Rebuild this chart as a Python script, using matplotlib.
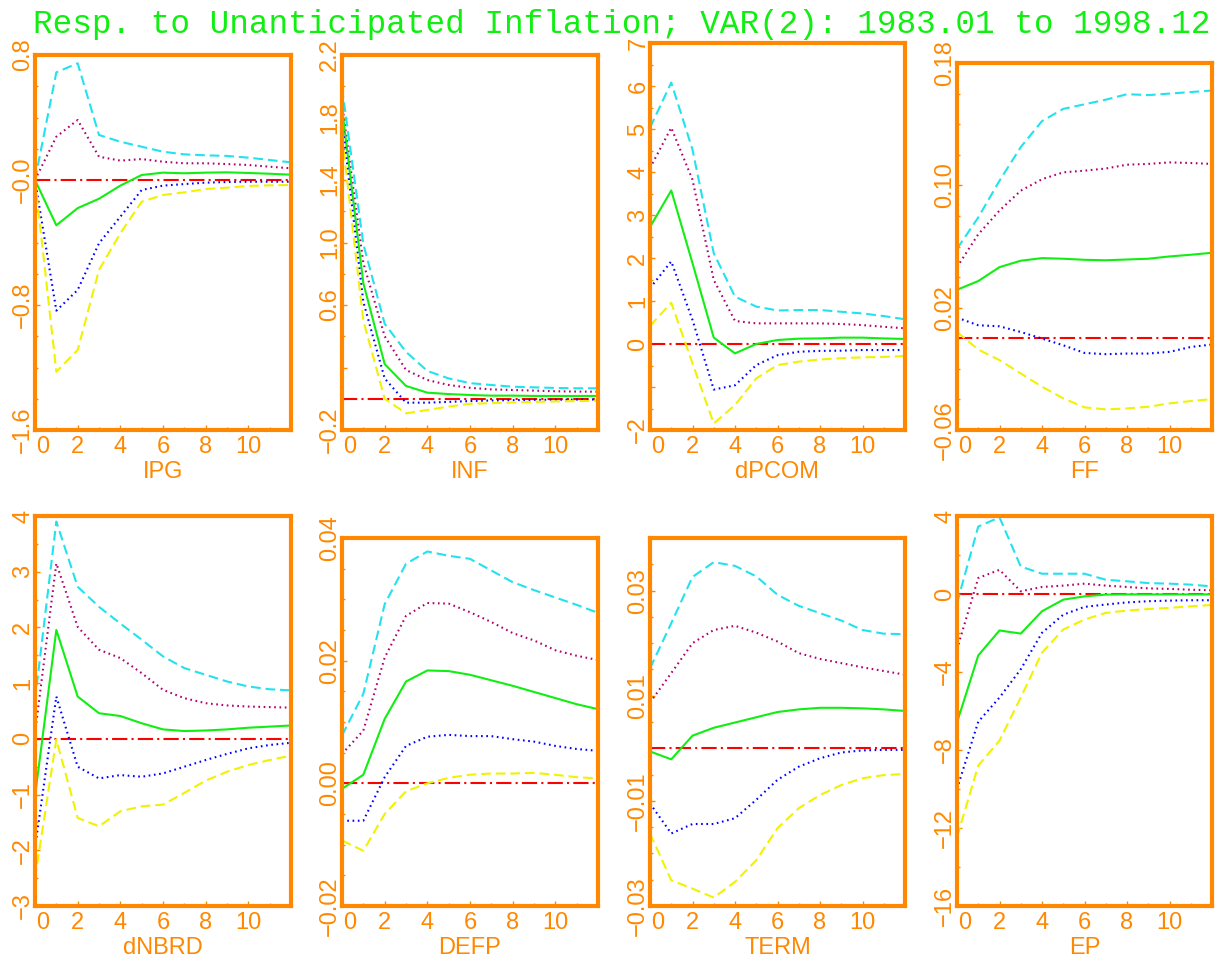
import matplotlib
matplotlib.use('Agg')
import matplotlib.pyplot as plt
import matplotlib.transforms as mtransforms
from matplotlib.ticker import MultipleLocator

plt.rcParams['font.family'] = ['Liberation Sans', 'DejaVu Sans']
plt.rcParams['lines.scale_dashes'] = False

title = 'Resp. to Unanticipated Inflation; VAR(2): 1983.01 to 1998.12'
steps = list(range(13))

# responses: u2 = upper dashed, u1 = upper dotted, m = point estimate,
# l1 = lower dotted, l2 = lower dashed
ipg_u2 = [0, 0.689, 0.747, 0.288, 0.245, 0.213, 0.181, 0.164, 0.158, 0.154, 0.143, 0.128, 0.113]
ipg_u1 = [0, 0.277, 0.384, 0.149, 0.124, 0.134, 0.117, 0.107, 0.107, 0.102, 0.096, 0.085, 0.075]
ipg_m = [0, -0.29, -0.18, -0.12, -0.036, 0.032, 0.047, 0.043, 0.047, 0.049, 0.045, 0.04, 0.034]
ipg_l1 = [0, -0.836, -0.704, -0.405, -0.235, -0.064, -0.036, -0.026, -0.017, -0.013, -0.011, -0.011, -0.011]
ipg_l2 = [0, -1.227, -1.088, -0.576, -0.341, -0.139, -0.096, -0.079, -0.058, -0.049, -0.038, -0.034, -0.032]

inf_u2 = [1.99, 0.99, 0.48, 0.30, 0.178, 0.13, 0.10, 0.088, 0.077, 0.073, 0.069, 0.067, 0.067]
inf_u1 = [1.89, 0.87, 0.40, 0.184, 0.12, 0.088, 0.07, 0.06, 0.056, 0.052, 0.048, 0.046, 0.045]
inf_m = [1.86, 0.74, 0.222, 0.082, 0.039, 0.030, 0.024, 0.020, 0.020, 0.018, 0.018, 0.018, 0.018]
inf_l1 = [1.78, 0.62, 0.13, -0.025, -0.025, -0.02, -0.015, -0.011, -0.009, -0.007, -0.006, -0.005, -0.005]
inf_l2 = [1.68, 0.50, 0.0, -0.093, -0.072, -0.05, -0.032, -0.028, -0.024, -0.02, -0.017, -0.015, -0.013]

dpcom_u2 = [5.03, 6.08, 4.52, 2.11, 1.10, 0.87, 0.78, 0.79, 0.79, 0.75, 0.71, 0.65, 0.575]
dpcom_u1 = [4.09, 5.03, 3.82, 1.49, 0.536, 0.48, 0.48, 0.48, 0.48, 0.465, 0.44, 0.40, 0.365]
dpcom_m = [2.72, 3.57, 1.88, 0.148, -0.218, 0.0, 0.093, 0.124, 0.13, 0.148, 0.148, 0.13, 0.117]
dpcom_l1 = [1.30, 1.92, 0.56, -1.06, -0.96, -0.49, -0.26, -0.18, -0.16, -0.155, -0.14, -0.14, -0.14]
dpcom_l2 = [0.42, 0.96, -0.45, -1.85, -1.42, -0.80, -0.49, -0.41, -0.36, -0.33, -0.31, -0.30, -0.28]

ff_u2 = [0.0585, 0.079, 0.103, 0.125, 0.142, 0.150, 0.153, 0.156, 0.1596, 0.159, 0.160, 0.161, 0.162]
ff_u1 = [0.0465, 0.068, 0.0835, 0.0965, 0.104, 0.1085, 0.1096, 0.111, 0.1135, 0.114, 0.115, 0.1146, 0.114]
ff_m = [0.0317, 0.0374, 0.0465, 0.0507, 0.0524, 0.052, 0.0513, 0.051, 0.0515, 0.052, 0.0535, 0.0546, 0.0559]
ff_l1 = [0.0135, 0.0085, 0.0078, 0.0041, -0.0002, -0.0046, -0.0096, -0.0104, -0.010, -0.010, -0.0089, -0.0057, -0.0041]
ff_l2 = [0.0041, -0.0074, -0.0143, -0.023, -0.0317, -0.0393, -0.0452, -0.0465, -0.0459, -0.0448, -0.0426, -0.0411, -0.0398]

dnbrd_u2 = [0.70, 3.90, 2.73, 2.37, 2.07, 1.78, 1.48, 1.27, 1.15, 1.03, 0.94, 0.89, 0.87]
dnbrd_u1 = [0.10, 3.15, 2.01, 1.60, 1.45, 1.18, 0.88, 0.73, 0.64, 0.60, 0.58, 0.57, 0.56]
dnbrd_m = [-1.03, 1.955, 0.76, 0.46, 0.41, 0.28, 0.17, 0.14, 0.15, 0.17, 0.20, 0.22, 0.24]
dnbrd_l1 = [-1.96, 0.76, -0.50, -0.71, -0.65, -0.68, -0.62, -0.50, -0.38, -0.27, -0.17, -0.11, -0.07]
dnbrd_l2 = [-2.50, -0.01, -1.42, -1.57, -1.30, -1.21, -1.18, -0.97, -0.75, -0.59, -0.47, -0.38, -0.30]

defp_u2 = [0.0078, 0.0146, 0.0292, 0.0358, 0.0378, 0.0371, 0.0366, 0.0347, 0.0328, 0.0315, 0.0303, 0.0291, 0.0278]
defp_u1 = [0.0048, 0.0086, 0.0205, 0.0273, 0.0294, 0.0293, 0.0279, 0.0263, 0.0245, 0.0233, 0.0217, 0.0208, 0.0201]
defp_m = [-0.0009, 0.0014, 0.0105, 0.0166, 0.0184, 0.0183, 0.0177, 0.0168, 0.0159, 0.0149, 0.0139, 0.0129, 0.0121]
defp_l1 = [-0.0061, -0.0061, 0.001, 0.0061, 0.0076, 0.0079, 0.0077, 0.0077, 0.0072, 0.0068, 0.0061, 0.0056, 0.0053]
defp_l2 = [-0.0093, -0.011, -0.005, -0.0013, 0.0, 0.0009, 0.0014, 0.0016, 0.0016, 0.0017, 0.0014, 0.001, 0.0008]

term_u2 = [0.0152, 0.0238, 0.0326, 0.0354, 0.0347, 0.0327, 0.0292, 0.0271, 0.0257, 0.0243, 0.0225, 0.0218, 0.0217]
term_u1 = [0.0087, 0.0143, 0.020, 0.0225, 0.0233, 0.022, 0.0203, 0.0181, 0.017, 0.0162, 0.0154, 0.0147, 0.014]
term_m = [-0.0006, -0.0021, 0.0024, 0.0039, 0.0049, 0.0059, 0.0069, 0.0074, 0.0077, 0.0077, 0.0076, 0.0074, 0.0071]
term_l1 = [-0.0105, -0.0162, -0.0144, -0.0144, -0.0133, -0.0098, -0.006, -0.0035, -0.0019, -0.0008, -0.0004, -0.0003, -0.0003]
term_l2 = [-0.0162, -0.0251, -0.0267, -0.0284, -0.0254, -0.0213, -0.0152, -0.0114, -0.0089, -0.007, -0.0057, -0.0051, -0.0049]

ep_u2 = [-0.46, 3.46, 3.93, 1.41, 1.04, 1.04, 1.04, 0.73, 0.65, 0.56, 0.53, 0.48, 0.39]
ep_u1 = [-2.84, 0.82, 1.24, 0.14, 0.36, 0.43, 0.53, 0.43, 0.36, 0.29, 0.26, 0.22, 0.19]
ep_m = [-6.59, -3.15, -1.87, -2.03, -0.885, -0.29, -0.12, -0.03, -0.02, -0.02, -0.02, -0.02, -0.02]
ep_l1 = [-9.99, -6.55, -5.31, -3.86, -1.99, -1.06, -0.66, -0.54, -0.43, -0.37, -0.34, -0.32, -0.32]
ep_l2 = [-12.46, -8.80, -7.52, -5.31, -3.01, -1.82, -1.31, -0.97, -0.85, -0.77, -0.71, -0.63, -0.56]

# y axis: limits, labelled ticks, tick labels, minor step
names = ['IPG', 'INF', 'dPCOM', 'FF', 'dNBRD', 'DEFP', 'TERM', 'EP']
ylims = [(-1.6, 0.8), (-0.2, 2.2), (-2, 7), (-0.06, 0.18),
         (-3, 4), (-0.02, 0.04), (-0.03, 0.04), (-16, 4)]
yticks = [[-1.6, -0.8, 0, 0.8],
          [-0.2, 0.2, 0.6, 1.0, 1.4, 1.8, 2.2],
          [-2, -1, 0, 1, 2, 3, 4, 5, 6, 7],
          [-0.06, 0.02, 0.10, 0.18],
          [-3, -2, -1, 0, 1, 2, 3, 4],
          [-0.02, 0.0, 0.02, 0.04],
          [-0.03, -0.01, 0.01, 0.03],
          [-16, -12, -8, -4, 0, 4]]
ylabels = [['−1.6', '−0.8', '−0.0', '0.8'],
           ['−0.2', '', '0.6', '1.0', '1.4', '1.8', '2.2'],
           ['−2', '', '0', '1', '2', '3', '4', '5', '6', '7'],
           ['−0.06', '0.02', '0.10', '0.18'],
           ['−3', '−2', '−1', '0', '1', '2', '3', '4'],
           ['−0.02', '0.00', '0.02', '0.04'],
           ['−0.03', '−0.01', '0.01', '0.03'],
           ['−16', '−12', '−8', '−4', '0', '4']]
yminor = [0.2, 0.2, 0.5, 0.02, 0.5, 0.005, 0.005, 2]

series = [
    (ipg_u2, ipg_u1, ipg_m, ipg_l1, ipg_l2),
    (inf_u2, inf_u1, inf_m, inf_l1, inf_l2),
    (dpcom_u2, dpcom_u1, dpcom_m, dpcom_l1, dpcom_l2),
    (ff_u2, ff_u1, ff_m, ff_l1, ff_l2),
    (dnbrd_u2, dnbrd_u1, dnbrd_m, dnbrd_l1, dnbrd_l2),
    (defp_u2, defp_u1, defp_m, defp_l1, defp_l2),
    (term_u2, term_u1, term_m, term_l1, term_l2),
    (ep_u2, ep_u1, ep_m, ep_l1, ep_l2),
]

# panel frames in pixels: left, right, top, bottom
W, H = 1227, 961
boxes = [(35, 291, 55, 430), (342, 598, 55, 430), (650, 905, 43, 430), (957, 1212, 63, 430),
         (35, 291, 516, 906), (342, 598, 538, 906), (650, 905, 538, 906), (957, 1212, 516, 906)]

orange = '#FF8800'
styles = [
    dict(color='#22E2EE', linestyle=(0, (7, 3.5))),
    dict(color='#B0006E', linestyle=(0, (1.2, 2.6))),
    dict(color='#11EE11', linestyle='-'),
    dict(color='#0000FF', linestyle=(0, (1.2, 2.6))),
    dict(color='#F2F200', linestyle=(0, (7, 3.5))),
]

fig = plt.figure(figsize=(W / 100, H / 100), dpi=100)

for i, name in enumerate(names):
    l, r, t, b = boxes[i]
    ax = fig.add_axes([l / W, 1 - b / H, (r - l) / W, (b - t) / H])

    ax.hlines(0, 0, 12, color='#FF0000', linewidth=1.5, linestyle=(0, (11, 3, 1.5, 3)))
    for vals, st in zip(series[i], styles):
        ax.plot(steps, vals, linewidth=1.5, **st)

    ax.set_xlim(0, 12)
    ax.set_ylim(*ylims[i])
    ax.set_xticks(range(0, 13, 2))
    ax.set_xticklabels(['0', '2', '4', '6', '8', '10', ''])
    ax.xaxis.set_minor_locator(MultipleLocator(1))
    ax.set_yticks(yticks[i])
    ax.set_yticklabels(ylabels[i], rotation=90, va='center')
    ax.yaxis.set_minor_locator(MultipleLocator(yminor[i]))

    ax.tick_params(which='both', direction='in', color=orange, labelcolor=orange,
                   labelsize=17, top=False, right=False, width=1)
    ax.tick_params(which='major', length=3.5)
    ax.tick_params(which='minor', length=2.5)
    ax.tick_params(axis='y', pad=0.5)
    ax.tick_params(axis='x', pad=4.5)
    for sp in ax.spines.values():
        sp.set_color(orange)
        sp.set_linewidth(3)
    ax.set_xlabel(name, color=orange, fontsize=17, labelpad=2)

    # first x label sits a little to the right of its tick
    lab = ax.xaxis.get_major_ticks()[0].label1
    lab.set_transform(lab.get_transform() + mtransforms.ScaledTranslation(8 / 100, 0, fig.dpi_scale_trans))

fig.text(33 / W, 1 - 33 / H, title, color='#11EE11', fontsize=23.5,
         family='Liberation Mono', ha='left', va='baseline')

fig.savefig('out.png', dpi=100)
